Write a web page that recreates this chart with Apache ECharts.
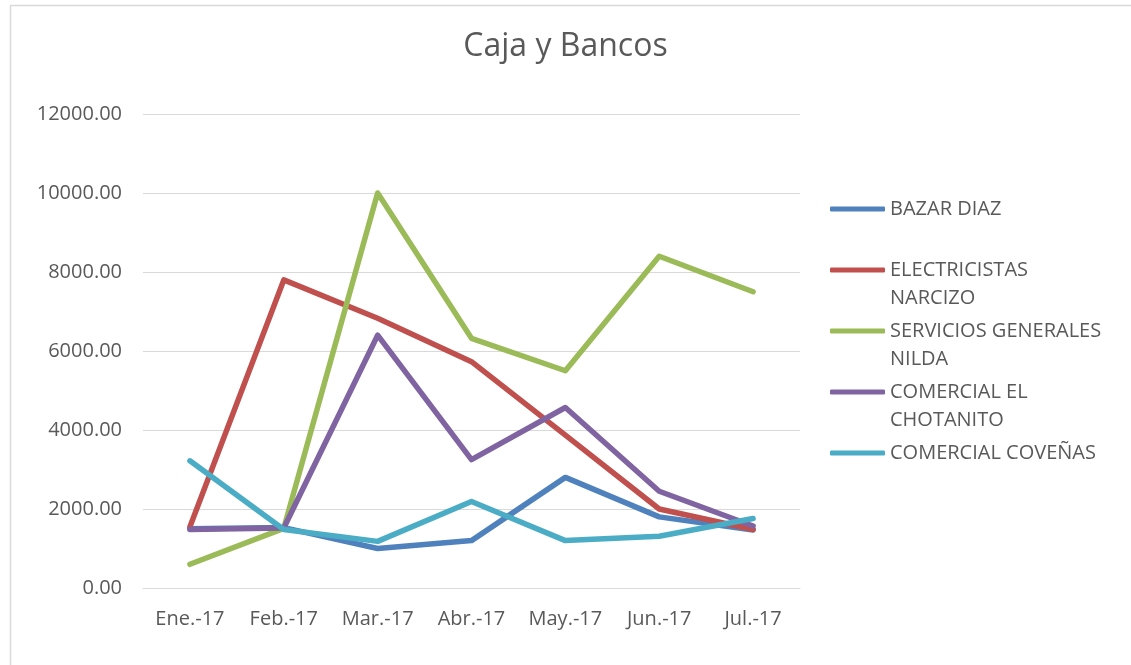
<!DOCTYPE html>
<html>
<head>
<meta charset="utf-8">
<script src="https://cdn.jsdelivr.net/npm/echarts@6/dist/echarts.min.js"></script>
<style>html,body{margin:0;padding:0;background:#fff;}#c{width:1131px;height:665px;}</style>
</head>
<body>
<div id="c"></div>
<script>
const categories = ['Ene.-17', 'Feb.-17', 'Mar.-17', 'Abr.-17', 'May.-17', 'Jun.-17', 'Jul.-17'];
const bazarDiaz = [1500, 1530, 1000, 1200, 2800, 1800, 1470];
const electricistasNarcizo = [1550, 7800, 6830, 5730, 3870, 2000, 1480];
const serviciosGeneralesNilda = [600, 1510, 10000, 6320, 5500, 8400, 7500];
const comercialElChotanito = [1480, 1520, 6400, 3250, 4570, 2450, 1570];
const comercialCovenas = [3220, 1480, 1180, 2190, 1200, 1310, 1760];
const seriesNames = ['BAZAR DIAZ', 'ELECTRICISTAS NARCIZO', 'SERVICIOS GENERALES NILDA', 'COMERCIAL EL CHOTANITO', 'COMERCIAL COVEÑAS'];
const legendLabels = {
  'BAZAR DIAZ': ' \nBAZAR DIAZ\n ',
  'ELECTRICISTAS NARCIZO': ' \nELECTRICISTAS\nNARCIZO',
  'SERVICIOS GENERALES NILDA': ' \nSERVICIOS GENERALES\nNILDA',
  'COMERCIAL EL CHOTANITO': ' \nCOMERCIAL EL\nCHOTANITO',
  'COMERCIAL COVEÑAS': ' \nCOMERCIAL COVEÑAS\n '
};
const yTicks = { min: 0, max: 12000, interval: 2000 };
const colors = ['#4F81BD', '#C0504D', '#9BBB59', '#8064A2', '#4BACC6'];
const dataSets = [bazarDiaz, electricistasNarcizo, serviciosGeneralesNilda, comercialElChotanito, comercialCovenas];

const font = '"Open Sans", "Noto Sans", sans-serif';
const chart = echarts.init(document.getElementById('c'), null, { renderer: 'canvas' });
chart.setOption({
  backgroundColor: '#ffffff',
  animation: false,
  color: colors,
  graphic: [{
    type: 'rect',
    shape: { x: 10.5, y: 5.5, width: 1200, height: 800 },
    style: { fill: 'none', stroke: '#D9D9D9', lineWidth: 1.5 },
    silent: true
  }],
  title: {
    text: 'Caja y Bancos',
    left: 'center',
    top: 31,
    padding: 0,
    textStyle: { fontFamily: font, fontSize: 32, fontWeight: 'normal', color: '#595959' }
  },
  legend: {
    orient: 'vertical',
    left: 830,
    top: 167,
    padding: 0,
    itemGap: -23,
    itemWidth: 55,
    itemHeight: 5,
    icon: 'roundRect',
    data: seriesNames,
    formatter: function (name) { return legendLabels[name]; },
    textStyle: { fontFamily: font, fontSize: 20, color: '#595959', lineHeight: 28 }
  },
  grid: { left: 143, right: 331, top: 114, bottom: 77, containLabel: false },
  xAxis: {
    type: 'category',
    data: categories,
    boundaryGap: true,
    axisLine: { show: true, lineStyle: { color: '#D9D9D9', width: 1 } },
    axisTick: { show: false },
    axisLabel: { fontFamily: font, fontSize: 20, color: '#595959', margin: 21, interval: 0 }
  },
  yAxis: {
    type: 'value',
    min: yTicks.min,
    max: yTicks.max,
    interval: yTicks.interval,
    axisLine: { show: false },
    axisTick: { show: false },
    splitLine: { lineStyle: { color: '#D9D9D9', width: 1.2 } },
    axisLabel: {
      fontFamily: font, fontSize: 20, color: '#595959', margin: 21,
      formatter: function (v) { return v.toFixed(2); }
    }
  },
  series: seriesNames.map(function (n, i) {
    return {
      name: n,
      type: 'line',
      data: dataSets[i],
      symbol: 'none',
      showSymbol: false,
      lineStyle: { width: 5.5, color: colors[i], cap: 'round', join: 'round' },
      itemStyle: { color: colors[i] }
    };
  })
});
</script>
</body>
</html>
